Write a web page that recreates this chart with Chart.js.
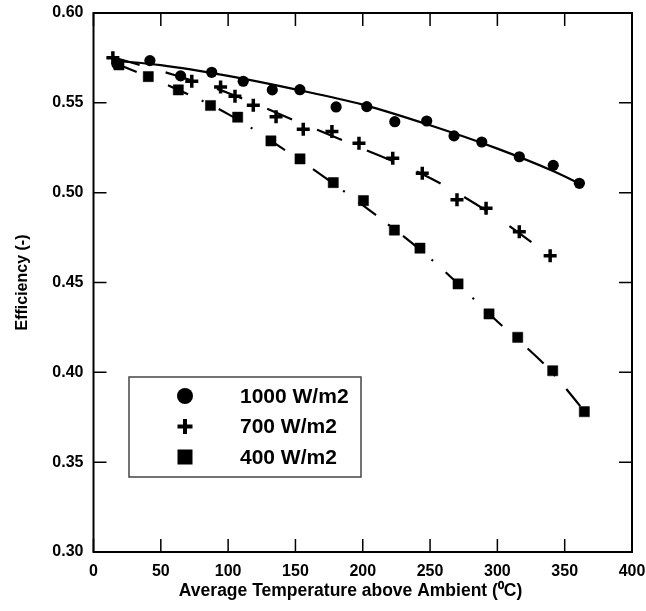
<!DOCTYPE html>
<html>
<head>
<meta charset="utf-8">
<script src="https://cdn.jsdelivr.net/npm/chart.js@4.4.0/dist/chart.umd.min.js"></script>
<style>
  html, body { margin: 0; padding: 0; background: #fff; }
  #wrap { width: 646px; height: 611px; }
</style>
</head>
<body>
<div id="wrap"><canvas id="chartCanvas"></canvas></div>
<script>
const temp1000 = [17.4, 41.9, 64.7, 87.8, 111.2, 132.8, 153.3, 180.2, 203, 223.8, 247.5, 267.8, 288.4, 316.3, 341.5, 360.9];
const eff1000  = [0.5716, 0.5735, 0.565, 0.567, 0.562, 0.5572, 0.5573, 0.5477, 0.5479, 0.5395, 0.5399, 0.5316, 0.5282, 0.520, 0.5152, 0.5052];

const temp700 = [14.4, 73, 94.4, 105.1, 118.7, 135.6, 155.8, 177.1, 197.2, 222.3, 244.2, 270, 291.6, 316.3, 339.2];
const eff700  = [0.5751, 0.562, 0.5588, 0.5536, 0.5486, 0.5423, 0.5353, 0.534, 0.5275, 0.5191, 0.5108, 0.4961, 0.4913, 0.4783, 0.4649];

const temp400 = [18.9, 40.7, 63, 86.9, 107.1, 131.8, 153.4, 178.1, 200.5, 223.5, 242.5, 270.8, 293.8, 315.1, 341.1, 364.6];
const eff400  = [0.5711, 0.5646, 0.5572, 0.5485, 0.542, 0.5288, 0.5188, 0.5056, 0.4956, 0.4792, 0.4691, 0.4492, 0.4325, 0.4195, 0.4009, 0.3781];

// fitted curves, points
const fitTemp1000 = [15, 50, 100, 150, 200, 250, 300, 340, 361];
const fitEff1000  = [0.5735, 0.571, 0.565, 0.5575, 0.549, 0.5375, 0.5245, 0.5125, 0.5052];
const fitTemp700 = [15, 60, 100, 150, 200, 250, 300, 339];
const fitEff700  = [0.5752, 0.5655, 0.5555, 0.540, 0.5245, 0.5082, 0.486, 0.4649];
const fitTemp400 = [17, 50, 100, 150, 200, 250, 300, 340, 365];
const fitEff400  = [0.5718, 0.5615, 0.5437, 0.5198, 0.493, 0.4635, 0.4283, 0.4005, 0.378];

const seriesLabels = ['1000 W/m2', '700 W/m2', '400 W/m2'];

const FONT = "'Liberation Sans', Arial, sans-serif";

function pts(xs, ys) {
  return xs.map((x, i) => ({ x: x, y: ys[i] }));
}

function fitLine(xs, ys, dash) {
  return {
    data: pts(xs, ys),
    showLine: true,
    borderColor: '#000',
    borderWidth: 2.2,
    borderDash: dash,
    pointRadius: 0,
    cubicInterpolationMode: 'monotone',
    fill: false
  };
}

// frame round the plot and inward tick marks on all four sides
const frameTicks = {
  id: 'frameTicks',
  afterDatasetsDraw(chart) {
    const { ctx, chartArea: a, scales: { x, y } } = chart;
    const len = 13;
    ctx.save();
    ctx.strokeStyle = '#000';
    ctx.lineWidth = 1.5;
    ctx.beginPath();
    x.ticks.forEach(t => {
      const px = x.getPixelForValue(t.value);
      ctx.moveTo(px, a.bottom); ctx.lineTo(px, a.bottom - len);
      ctx.moveTo(px, a.top); ctx.lineTo(px, a.top + len);
    });
    y.ticks.forEach(t => {
      const py = y.getPixelForValue(t.value);
      ctx.moveTo(a.left, py); ctx.lineTo(a.left + len, py);
      ctx.moveTo(a.right, py); ctx.lineTo(a.right - len, py);
    });
    ctx.stroke();
    ctx.lineWidth = 2;
    ctx.strokeRect(a.left, a.top, a.right - a.left, a.bottom - a.top);
    ctx.restore();
  }
};

// boxed legend inside the plot
const boxLegend = {
  id: 'boxLegend',
  afterDraw(chart) {
    const ctx = chart.ctx;
    const box = { left: 129, top: 377, right: 361, bottom: 477 };
    const rows = [396, 426.5, 457];
    const markX = 185, textX = 240;
    ctx.save();
    ctx.fillStyle = '#fff';
    ctx.fillRect(box.left, box.top, box.right - box.left, box.bottom - box.top);
    ctx.strokeStyle = '#444';
    ctx.lineWidth = 1.5;
    ctx.strokeRect(box.left, box.top, box.right - box.left, box.bottom - box.top);
    ctx.fillStyle = '#000';
    ctx.strokeStyle = '#000';
    // circle
    ctx.beginPath();
    ctx.arc(markX, rows[0], 8, 0, Math.PI * 2);
    ctx.fill();
    // plus
    ctx.lineWidth = 4;
    ctx.beginPath();
    ctx.moveTo(markX - 7.5, rows[1]); ctx.lineTo(markX + 7.5, rows[1]);
    ctx.moveTo(markX, rows[1] - 7.5); ctx.lineTo(markX, rows[1] + 7.5);
    ctx.stroke();
    // square
    ctx.fillRect(markX - 7.5, rows[2] - 7.5, 15, 15);
    ctx.font = 'bold 21px ' + FONT;
    ctx.textBaseline = 'middle';
    ctx.textAlign = 'left';
    seriesLabels.forEach((s, i) => ctx.fillText(s, textX, rows[i] + 1));
    ctx.restore();
  }
};

function renderChart() {
  const ctx = document.getElementById('chartCanvas').getContext('2d');
  new Chart(ctx, {
    type: 'scatter',
    data: {
      datasets: [
        fitLine(fitTemp1000, fitEff1000, []),
        fitLine(fitTemp700, fitEff700, [27, 27]),
        fitLine(fitTemp400, fitEff400, [22, 15, 2, 17]),
        {
          label: seriesLabels[0],
          data: pts(temp1000, eff1000),
          pointStyle: 'circle',
          pointRadius: 5.6,
          backgroundColor: '#000',
          borderColor: '#000',
          borderWidth: 0
        },
        {
          label: seriesLabels[1],
          data: pts(temp700, eff700),
          pointStyle: 'cross',
          pointRadius: 6.5,
          borderColor: '#000',
          borderWidth: 3.5
        },
        {
          label: seriesLabels[2],
          data: pts(temp400, eff400),
          pointStyle: 'rect',
          pointRadius: 7.2,
          backgroundColor: '#000',
          borderColor: '#000',
          borderWidth: 0.5
        }
      ]
    },
    options: {
      responsive: true,
      maintainAspectRatio: false,
      animation: false,
      layout: { padding: { top: 13, right: 14, left: 0, bottom: 0 } },
      plugins: {
        legend: { display: false },
        tooltip: { enabled: false }
      },
      scales: {
        x: {
          type: 'linear',
          min: 0,
          max: 400,
          afterFit: s => {
            s.height = 59;
            s.paddingLeft = 0;
            s.paddingRight = 0;
          },
          grid: { display: false, drawTicks: false },
          border: { display: false },
          ticks: {
            stepSize: 50,
            padding: 10,
            color: '#000',
            font: { family: FONT, size: 16, weight: 'bold' }
          },
          title: {
            display: true,
            text: 'Average Temperature above Ambient (\u2070C)     ',
            color: '#000',
            padding: { top: 0, bottom: 9 },
            font: { family: FONT, size: 17.5, weight: 'bold' }
          }
        },
        y: {
          min: 0.30,
          max: 0.60,
          afterFit: s => {
            s.width = 93.5;
            s.paddingTop = 0;
            s.paddingBottom = 0;
          },
          grid: { display: false, drawTicks: false },
          border: { display: false },
          ticks: {
            stepSize: 0.05,
            padding: 10,
            color: '#000',
            font: { family: FONT, size: 16, weight: 'bold' },
            callback: v => v.toFixed(2)
          },
          title: {
            display: true,
            text: 'Efficiency (-)',
            color: '#000',
            padding: { top: 13, bottom: 0 },
            font: { family: FONT, size: 16, weight: 'bold' }
          }
        }
      }
    },
    plugins: [frameTicks, boxLegend]
  });
}

window.onload = renderChart;
</script>
</body>
</html>
